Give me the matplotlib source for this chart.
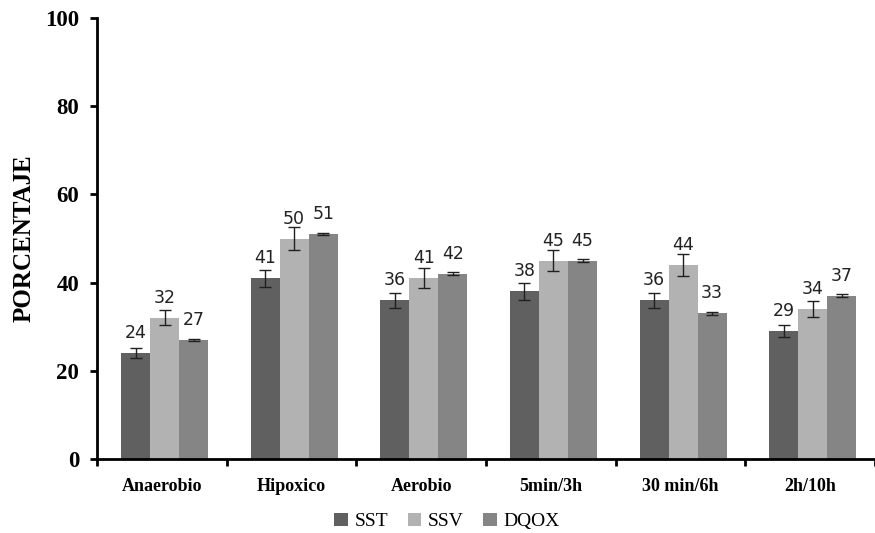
import matplotlib
matplotlib.use("Agg")
import matplotlib.pyplot as plt
import numpy as np

categories = ["Anaerobio", "Hipoxico", "Aerobio", "5min/3h", "30 min/6h", "2h/10h"]
series = ["SST", "SSV", "DQOX"]
sst = [24, 41, 36, 38, 36, 29]
ssv = [32, 50, 41, 45, 44, 34]
dqox = [27, 51, 42, 45, 33, 37]
sst_err = [1.1, 1.9, 1.7, 2.0, 1.7, 1.4]
ssv_err = [1.7, 2.5, 2.3, 2.3, 2.4, 1.8]
dqox_err = [0.2, 0.3, 0.3, 0.4, 0.3, 0.3]

colors = ["#606060", "#b2b2b2", "#858585"]
SERIF = "Liberation Serif"

fig = plt.figure(figsize=(8.75, 5.33), dpi=100)
ax = fig.add_axes([0.111, 0.139, 0.889, 0.827])

x = np.arange(len(categories))
w = 0.224
for i, (vals, errs) in enumerate([(sst, sst_err), (ssv, ssv_err), (dqox, dqox_err)]):
    pos = x + (i - 1) * w + 0.02
    ax.bar(pos, vals, width=w, color=colors[i], label=series[i], zorder=2)
    ax.errorbar(pos, vals, yerr=errs, fmt="none", ecolor="#202020",
                elinewidth=1.0, capsize=4.5, capthick=1.0, zorder=3)
    for px, v in zip(pos, vals):
        ax.annotate(str(v), (px, v), xytext=(0, 14.4), textcoords="offset points",
                    ha="center", va="center", fontsize=12.5, color="#222222",
                    family="DejaVu Sans")

ax.set_xlim(-0.5, len(categories) - 0.5)
ax.set_ylim(0, 100)
ax.set_yticks([0, 20, 40, 60, 80, 100])
ax.set_xticks(x)
ax.set_xticklabels(categories)
ax.set_xticks(np.arange(len(categories) + 1) - 0.5, minor=True)
ax.tick_params(axis="x", which="major", length=0, pad=14)
ax.tick_params(axis="x", which="minor", length=5, width=2, direction="out")
ax.tick_params(axis="y", length=5, width=2, direction="out", pad=8)
for lab in ax.get_xticklabels():
    lab.set_fontfamily(SERIF)
    lab.set_fontweight("bold")
    lab.set_fontsize(13)
for lab in ax.get_yticklabels():
    lab.set_fontfamily(SERIF)
    lab.set_fontweight("bold")
    lab.set_fontsize(16.5)

ax.spines["top"].set_visible(False)
ax.spines["right"].set_visible(False)
ax.spines["left"].set_linewidth(2)
ax.spines["bottom"].set_linewidth(2)

ax.set_ylabel("PORCENTAJE", family=SERIF, fontweight="bold", fontsize=18,
              va="center")
ax.yaxis.set_label_coords(-0.094, 0.5)

ax.legend(loc="center", bbox_to_anchor=(0.45, -0.142), ncol=3, frameon=False,
          prop={"family": SERIF, "size": 14}, handlelength=0.7, handleheight=0.7,
          handletextpad=0.35, columnspacing=1.0)

fig.savefig("out.png", dpi=100)
